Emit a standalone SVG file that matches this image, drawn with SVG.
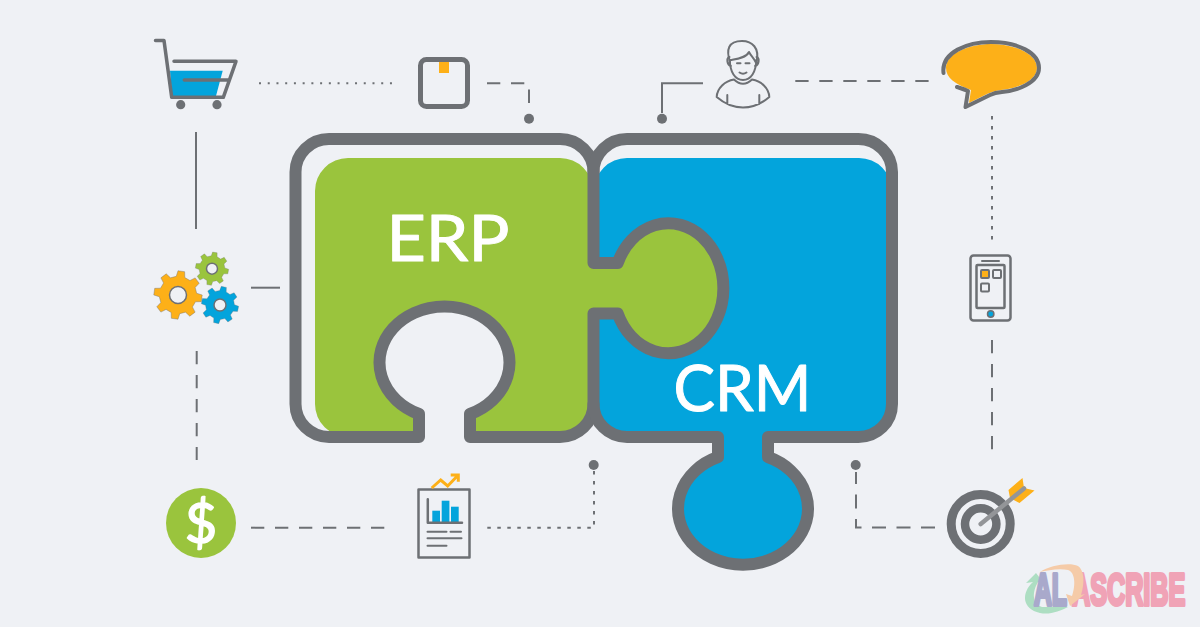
<svg xmlns="http://www.w3.org/2000/svg" width="1200" height="627" viewBox="0 0 1200 627">
<style>
.o{fill:none;stroke:#6d7074;stroke-width:12;stroke-linejoin:round;stroke-linecap:round}
.c{fill:none;stroke:#6d7074;stroke-width:2}
.dash{stroke-dasharray:13.3 10.7}
.dot{stroke-dasharray:3.5 6.500}
.pin{fill:#6d7074}
.ic{fill:none;stroke:#6d7074;stroke-linecap:round;stroke-linejoin:round}
.big{font-family:Lato,"Liberation Sans",sans-serif;font-size:64px;fill:#fff;stroke:#fff;stroke-width:1;stroke-linejoin:round}
.gear{stroke:#6d7074;stroke-width:1.6;stroke-linejoin:round;vector-effect:non-scaling-stroke}
.wm{font-family:"Liberation Sans",sans-serif;font-weight:700;font-size:45px;stroke-width:4;stroke-linejoin:round}
</style>
<defs>
<polygon id="g" points="-18,-76 -14,-100 14,-100 18,-76 41,-66.5 60.8,-80.6 80.6,-60.8 66.5,-41 76,-18 100,-14 100,14 76,18 66.5,41 80.6,60.8 60.8,80.6 41,66.5 18,76 14,100 -14,100 -18,76 -41,66.5 -60.8,80.6 -80.6,60.8 -66.5,41 -76,18 -100,14 -100,-14 -76,-18 -66.5,-41 -80.6,-60.8 -60.8,-80.6 -41,-66.5"/>
</defs>
<rect width="1200" height="627" fill="#eff1f5"/>

<g id="connectors">
<path class="c" stroke-dasharray="2 6.730" d="M259 83.300H392"/>
<path class="c dash" d="M487 83.300H525"/>
<path class="c" d="M529 89.500V103"/>
<circle class="pin" cx="529" cy="118.700" r="5"/>
<path class="c" d="M703 83.300H662V113"/>
<circle class="pin" cx="662" cy="118.700" r="5"/>
<path class="c dash" d="M795.300 81H929"/>
<path class="c dot" d="M992 116V240"/>
<path class="c dash" d="M992 340V450"/>
<path class="c" d="M196 132V229"/>
<path class="c" d="M251 287.700H280"/>
<path class="c dash" d="M196.700 351V460"/>
<path class="c dash" d="M251 527.700H385.500"/>
<path class="c dot" d="M487.300 527.700H594V471"/>
<circle class="pin" cx="593.700" cy="465" r="5"/>
<path class="c" stroke-dasharray="14 10.500" d="M935 527.500H856V472"/>
<circle class="pin" cx="855.700" cy="465" r="5"/>
</g>

<g id="erp">
<path fill="#9ac43d" d="M348 158H560A33 33 0 0 1 593 191V404A33 33 0 0 1 560 437H470V414A65 56 0 1 0 419 414V437H348A33 33 0 0 1 315 404V191A33 33 0 0 1 348 158Z"/>
</g>
<g id="crm">
<path fill="#03a4dc" d="M627 158H859A33 33 0 0 1 892 191V404A33 33 0 0 1 859 437H768V457A65 56 0 1 1 718 457V437H627A33 33 0 0 1 594 404V191A33 33 0 0 1 627 158Z"/>
<path fill="#9ac43d" d="M590 263H617.700A55 65 0 1 1 617.700 313.500H590Z"/>
<path class="o" d="M593.500 172A33.500 33 0 0 0 560 139H329A33.500 33 0 0 0 295.500 172V404A33.500 33 0 0 0 329 437H419V414A65 56 0 1 1 470 414V437H560A33.500 33 0 0 0 593.500 404"/>
<path class="o" d="M593.500 263V172A33.500 33 0 0 1 627 139H858.500A33.500 33 0 0 1 892 172V404A33.500 33 0 0 1 858.500 437H768V457A65 56 0 1 1 718 457V437H627A33.500 33 0 0 1 593.500 404V313.500H617.700A55 65 0 1 0 617.700 263Z"/>
<text class="big" x="386.500" y="261" textLength="123" lengthAdjust="spacingAndGlyphs">ERP</text>
<text class="big" x="673.500" y="411" textLength="138" lengthAdjust="spacingAndGlyphs">CRM</text>
</g>

<g id="cart">
<polygon fill="#03a4dc" points="170,70.700 222.700,70.700 216,96 172,96"/>
<path class="ic" stroke-width="3.500" d="M155.500 40.500H164L171.700 97.300H223.300L236 61.300H174M184.300 80H228.300"/>
<circle class="pin" cx="180.700" cy="104.700" r="4.600"/>
<circle class="pin" cx="217" cy="104.700" r="4.600"/>
</g>

<g id="box">
<rect class="ic" stroke-width="5" x="420.500" y="59.500" width="47" height="47" rx="6"/>
<rect fill="#fdb018" x="439" y="62" width="10" height="11"/>
</g>

<g id="user">
<path class="ic" stroke-width="2" d="M730 62C726 50 728 41 742 41C752 41 760 48 756.500 62M731 60C737 59 746 58 749 52C751 56 754 58 755.500 62"/>
<path class="ic" stroke-width="2" d="M729.800 60C730 72 735 80 743 80C751 80 756 72 756.300 60M729.500 57C726 58 727 65 731 66M756.500 57C760 58 759 65 755 66"/>
<path class="ic" stroke-width="2" d="M737 63.300H740.500M745.500 63.300H749.500M739.500 72.500Q743 75 746.500 72.500"/>
<path class="ic" stroke-width="2" d="M734 79.500C725 81 717 88 716.700 97C733 111 753 111 769.300 97C769 88 761 81 752 79.500Q743 88 734 79.500ZM727.300 95V104M759.300 95V104"/>
</g>

<g id="speech">
<path fill="#fdb018" d="M946 68C946 53 970 44 991 44C1015 44 1037 54 1037 68C1037 82 1014 89 1001 90C994 91 992 92 987 94L969 103L971 90C955 84 946 78 946 68Z"/>
<path class="ic" stroke-width="4" d="M943.500 73C941 52 968 42 991 42C1018 42 1039 53 1039 68C1039 83 1016 91 1002 92C996 92.500 994 93 990 95L965.500 107L968 91C964 89 960 88 957 87"/>
</g>

<g id="phone">
<rect class="ic" stroke-width="2.500" x="970.500" y="255.500" width="40" height="65" rx="3"/>
<rect class="ic" stroke-width="2.500" x="976.500" y="265" width="28" height="43" rx="1"/>
<path class="ic" stroke-width="2" d="M982 261H999"/>
<rect fill="#fdb018" stroke="#6d7074" stroke-width="2" x="981" y="270" width="8" height="8" rx="1"/>
<rect fill="none" stroke="#6d7074" stroke-width="2" x="993" y="270" width="8" height="8" rx="1"/>
<rect fill="none" stroke="#6d7074" stroke-width="2" x="981" y="283.500" width="8" height="8" rx="1"/>
<circle fill="#03a4dc" stroke="#6d7074" stroke-width="1.500" cx="990.700" cy="314" r="3.200"/>
</g>

<g id="gears">
<use href="#g" class="gear" fill="#9ac43d" transform="translate(212 268.700) scale(.165) rotate(10)"/>
<circle cx="212" cy="268.700" r="5.500" fill="#eff1f5" stroke="#6d7074" stroke-width="1.500"/>
<use href="#g" class="gear" fill="#fdb018" transform="translate(178 295) scale(.24) rotate(8)"/>
<circle cx="178" cy="295" r="8.500" fill="#eff1f5" stroke="#6d7074" stroke-width="1.500"/>
<use href="#g" class="gear" fill="#03a4dc" transform="translate(220 305) scale(.185) rotate(12)"/>
<circle cx="220" cy="305" r="6" fill="#eff1f5" stroke="#6d7074" stroke-width="1.500"/>
</g>

<g id="dollar">
<circle cx="201" cy="523" r="35" fill="#9ac43d"/>
<text x="201" y="543" text-anchor="middle" font-family="Lato,'Liberation Sans',sans-serif" font-size="56" fill="#fff" stroke="#fff" stroke-width="1.500" stroke-linejoin="round">$</text>
</g>

<g id="report">
<rect class="ic" stroke-width="2.500" x="418.500" y="489.500" width="51" height="68"/>
<rect fill="#03a4dc" x="432.300" y="510.700" width="7.700" height="11.500"/>
<rect fill="#03a4dc" x="441.700" y="500.700" width="7.700" height="21.500"/>
<rect fill="#03a4dc" x="451" y="506.700" width="7.700" height="15.500"/>
<path class="ic" stroke-width="2.500" d="M427.800 499.300V522.700H462"/>
<path class="ic" stroke-width="2" d="M427.500 531.700H446.500M450.500 531.700H461M427.500 538.300H461.500M427.500 545.700H446.500"/>
<path fill="none" stroke="#fdb018" stroke-width="3" d="M431.700 488L440.700 480L447.700 486L457.300 476M450.700 475H458.300V481.700"/>
</g>

<g id="target">
<circle cx="980.700" cy="524" r="29.500" fill="none" stroke="#6d7074" stroke-width="9"/>
<circle cx="980.700" cy="524" r="15.700" fill="none" stroke="#6d7074" stroke-width="8.500"/>
<polygon fill="#fdb018" points="1022.500,478 1008.500,490 1010,498 1019.500,503 1034.500,490.500 1024,488"/>
<path stroke="#939598" stroke-width="4.500" stroke-linecap="round" d="M980.700 524L1024 488.500"/>
</g>

<g id="watermark">
<text class="wm" transform="translate(1072 605) scale(.56 1)" fill="#f0a3b6" stroke="#f0a3b6">ASCRIBE</text>
<path fill="#a5dcbc" opacity=".9" d="M1033 582L1026 583L1036 573L1043 582L1038 582C1032 592 1032 604 1042 607L1068 607C1060 611 1050 615 1040 613C1022 609 1021 593 1033 582Z"/>
<text class="wm" transform="translate(1034 605) scale(.55 1)" fill="#a9a9cb" stroke="#a9a9cb">AL</text>
<path fill="#f5cba8" d="M1040 572C1050 565 1070 562 1078 566C1084 570 1085 582 1081 595L1085 594L1070 606L1066 594L1072 596C1076 585 1075 572 1068 570C1060 568 1048 570 1040 572Z"/>
</g>
</svg>
